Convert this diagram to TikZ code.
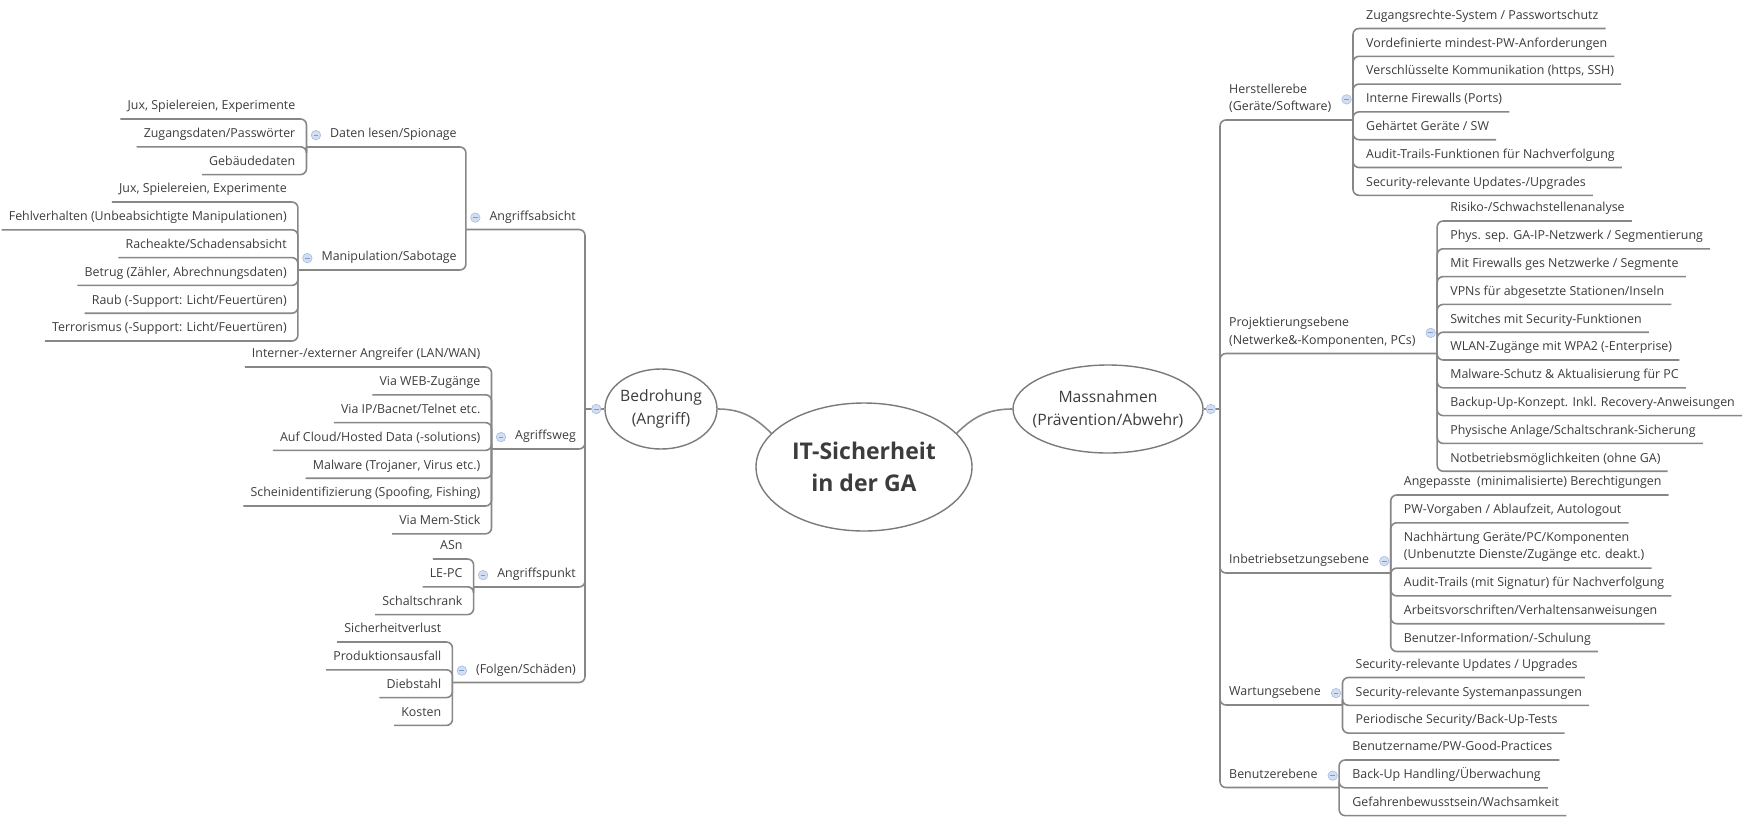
\documentclass[tikz,border=0pt]{standalone}
\usepackage{fontspec}
\setmainfont{Open Sans}
\usetikzlibrary{positioning,shapes.geometric}

\definecolor{txtgray}{HTML}{3C3C3C}
\definecolor{linegray}{HTML}{878787}
\definecolor{ringgray}{HTML}{7A7A7A}
\definecolor{foldfill}{HTML}{D3DEF2}
\definecolor{foldline}{HTML}{A6BCE2}
\definecolor{foldbar}{HTML}{7E9BD0}

\newcommand{\two}[2]{\begin{tabular}[b]{@{}l@{}}#1\\#2\end{tabular}}

\tikzset{
  leaf/.style={font=\fontsize{12.4}{17.5}\selectfont, text=txtgray, inner xsep=7pt, inner ysep=0pt,
    text height=18.4pt, text depth=9pt},
  topic/.style={leaf, inner xsep=9pt},
  twoline/.style={text height=35.9pt},
  bubble/.style={ellipse, draw=ringgray, line width=1.4pt, text=txtgray, inner sep=0pt, align=center},
  branch/.style={draw=linegray, line width=1.6pt, rounded corners=6pt},
  fold/.style={circle, draw=foldline, fill=foldfill, line width=0.6pt, minimum size=9.5pt, inner sep=0pt,
    path picture={\draw[foldbar, line width=0.9pt]
      ([xshift=-2.4pt]path picture bounding box.center) -- ([xshift=2.4pt]path picture bounding box.center);}}
}

\begin{document}
\begin{tikzpicture}[x=1pt, y=-1pt]
\useasboundingbox (0,0) rectangle (1753,819);

\node[bubble, font=\bfseries\fontsize{23}{32}\selectfont, minimum width=216pt, minimum height=128pt]
  (it) at (864,467) {IT-Sicherheit\\in der GA};
\node[bubble, font=\fontsize{15.7}{23}\selectfont, inner xsep=-10pt, minimum width=112pt, minimum height=80pt]
  (bed) at (661,409) {Bedrohung\\(Angriff)};
\node[bubble, font=\fontsize{15.7}{23}\selectfont, inner xsep=-20pt, minimum width=190pt, minimum height=88pt]
  (mas) at (1108,409) {Massnahmen\\(Prävention/Abwehr)};

\coordinate (bed-t) at (585,409);
\coordinate (mas-t) at (1220,409);
\draw[branch] (bed.east) to[out=0, in=135] (it.160);
\draw[branch] (mas.west) to[out=180, in=45] (it.20);
\draw[branch] (bed.west) -- (bed-t);
\draw[branch] (mas.east) -- (mas-t);

% Bedrohung
\node[topic, anchor=south east] (aab) at (585,229.5) {Angriffsabsicht};
\node[topic, anchor=south east] (awg) at (585,449) {Agriffsweg};
\node[topic, anchor=south east] (apu) at (585,587) {Angriffspunkt};
\node[topic, anchor=south east] (fol) at (585,682.5) {(Folgen/Schäden)};
\foreach \n in {aab,awg,apu,fol} \coordinate (\n-b) at ([xshift=-14.5pt]\n.south west);
\foreach \n in {aab,awg,apu,fol} \draw[branch] (bed-t) |- (\n-b);

\node[topic, anchor=south east] (dat) at (aab-b |- 0,147) {Daten lesen/Spionage};
\node[topic, anchor=south east] (man) at (aab-b |- 0,270) {Manipulation/Sabotage};
\foreach \n in {dat,man} \coordinate (\n-b) at ([xshift=-14.5pt]\n.south west);
\foreach \n in {dat,man} \draw[branch] (aab-b) |- (\n-b);

\node[leaf, anchor=south east, xshift=-4pt] (dl-1) at (dat-b |- 0,119) {Jux, Spielereien, Experimente};
\foreach \t [count=\i from 2, remember=\i as \j (initially 1)] in {Zugangsdaten/Passwörter, Gebäudedaten}
  \node[leaf, below=0pt of dl-\j.south east, anchor=north east] (dl-\i) {\t};
\foreach \i in {1,...,3} \draw[branch] (dat-b) |- (dl-\i.south west);

\node[leaf, anchor=south east, xshift=-4pt] (ms-1) at (man-b |- 0,202) {Jux, Spielereien, Experimente};
\foreach \t [count=\i from 2, remember=\i as \j (initially 1)] in {Fehlverhalten (Unbeabsichtigte Manipulationen),
    Racheakte/Schadensabsicht, {Betrug (Zähler, Abrechnungsdaten)}, Raub (-Support: Licht/Feuertüren),
    Terrorismus (-Support: Licht/Feuertüren)}
  \node[leaf, below=0pt of ms-\j.south east, anchor=north east] (ms-\i) {\t};
\foreach \i in {1,...,6} \draw[branch] (man-b) |- (ms-\i.south west);

\node[leaf, anchor=south east, xshift=-4pt] (aw-1) at (awg-b |- 0,367) {Interner-/externer Angreifer (LAN/WAN)};
\foreach \t [count=\i from 2, remember=\i as \j (initially 1)] in {Via WEB-Zugänge, Via IP/Bacnet/Telnet etc.,
    Auf Cloud/Hosted Data (-solutions), {Malware (Trojaner, Virus etc.)},
    {Scheinidentifizierung (Spoofing, Fishing)}, Via Mem-Stick}
  \node[leaf, below=0pt of aw-\j.south east, anchor=north east] (aw-\i) {\t};
\foreach \i in {1,...,7} \draw[branch] (awg-b) |- (aw-\i.south west);

\node[leaf, anchor=south east, xshift=-4pt] (ap-1) at (apu-b |- 0,559) {ASn};
\foreach \t [count=\i from 2, remember=\i as \j (initially 1)] in {LE-PC, Schaltschrank}
  \node[leaf, below=0pt of ap-\j.south east, anchor=north east] (ap-\i) {\t};
\foreach \i in {1,...,3} \draw[branch] (apu-b) |- (ap-\i.south west);

\node[leaf, anchor=south east, xshift=-4pt] (fs-1) at (fol-b |- 0,642) {Sicherheitverlust};
\foreach \t [count=\i from 2, remember=\i as \j (initially 1)] in {Produktionsausfall, Diebstahl, Kosten}
  \node[leaf, below=0pt of fs-\j.south east, anchor=north east] (fs-\i) {\t};
\foreach \i in {1,...,4} \draw[branch] (fol-b) |- (fs-\i.south west);

% Massnahmen
\node[topic, anchor=south west] (hst) at (1220,120) {\two{Herstellerebe}{(Geräte/Software)}};
\node[topic, anchor=south west] (prj) at (1220,353.5) {\two{Projektierungsebene}{(Netwerke\&-Komponenten, PCs)}};
\node[topic, anchor=south west] (inb) at (1220,573) {Inbetriebsetzungsebene};
\node[topic, anchor=south west] (wtg) at (1220,705) {Wartungsebene};
\node[topic, anchor=south west] (ben) at (1220,787.5) {Benutzerebene};
\foreach \n in {hst,prj,inb,wtg,ben} \coordinate (\n-b) at ([xshift=12.5pt]\n.south east);
\foreach \n in {hst,prj,inb,wtg,ben} \draw[branch] (mas-t) |- (\n-b);

\node[leaf, anchor=south west, xshift=6pt] (hs-1) at (hst-b |- 0,28.5) {Zugangsrechte-System / Passwortschutz};
\foreach \t [count=\i from 2, remember=\i as \j (initially 1)] in {Vordefinierte mindest-PW-Anforderungen,
    {Verschlüsselte Kommunikation (https, SSH)}, Interne Firewalls (Ports), Gehärtet Geräte / SW,
    Audit-Trails-Funktionen für Nachverfolgung, Security-relevante Updates-/Upgrades}
  \node[leaf, below=0pt of hs-\j.south west, anchor=north west] (hs-\i) {\t};
\foreach \i in {1,...,7} \draw[branch] (hst-b) |- (hs-\i.south east);

\node[leaf, anchor=south west, xshift=6pt] (pj-1) at (prj-b |- 0,221) {Risiko-/Schwachstellenanalyse};
\foreach \t [count=\i from 2, remember=\i as \j (initially 1)] in {Phys. sep. GA-IP-Netzwerk / Segmentierung,
    Mit Firewalls ges Netzwerke / Segmente, VPNs für abgesetzte Stationen/Inseln,
    Switches mit Security-Funktionen, WLAN-Zugänge mit WPA2 (-Enterprise),
    Malware-Schutz \& Aktualisierung für PC, Backup-Up-Konzept. Inkl. Recovery-Anweisungen,
    Physische Anlage/Schaltschrank-Sicherung, Notbetriebsmöglichkeiten (ohne GA)}
  \node[leaf, below=0pt of pj-\j.south west, anchor=north west] (pj-\i) {\t};
\foreach \i in {1,...,10} \draw[branch] (prj-b) |- (pj-\i.south east);

\node[leaf, anchor=south west, xshift=6pt] (ib-1) at (inb-b |- 0,495) {Angepasste~ (minimalisierte) Berechtigungen};
\node[leaf, below=0pt of ib-1.south west, anchor=north west] (ib-2) {PW-Vorgaben / Ablaufzeit, Autologout};
\node[leaf, twoline, below=0pt of ib-2.south west, anchor=north west] (ib-3)
  {\two{Nachhärtung Geräte/PC/Komponenten}{(Unbenutzte Dienste/Zugänge etc. deakt.)}};
\node[leaf, below=0pt of ib-3.south west, anchor=north west] (ib-4) {Audit-Trails (mit Signatur) für Nachverfolgung};
\node[leaf, below=0pt of ib-4.south west, anchor=north west] (ib-5) {Arbeitsvorschriften/Verhaltensanweisungen};
\node[leaf, below=0pt of ib-5.south west, anchor=north west] (ib-6) {Benutzer-Information/-Schulung};
\foreach \i in {1,...,6} \draw[branch] (inb-b) |- (ib-\i.south east);

\node[leaf, anchor=south west, xshift=6pt] (wt-1) at (wtg-b |- 0,677.5) {Security-relevante Updates / Upgrades};
\foreach \t [count=\i from 2, remember=\i as \j (initially 1)] in {Security-relevante Systemanpassungen,
    Periodische Security/Back-Up-Tests}
  \node[leaf, below=0pt of wt-\j.south west, anchor=north west] (wt-\i) {\t};
\foreach \i in {1,...,3} \draw[branch] (wtg-b) |- (wt-\i.south east);

\node[leaf, anchor=south west, xshift=6pt] (bn-1) at (ben-b |- 0,760) {Benutzername/PW-Good-Practices};
\foreach \t [count=\i from 2, remember=\i as \j (initially 1)] in {Back-Up Handling/Überwachung,
    Gefahrenbewusstsein/Wachsamkeit}
  \node[leaf, below=0pt of bn-\j.south west, anchor=north west] (bn-\i) {\t};
\foreach \i in {1,...,3} \draw[branch] (ben-b) |- (bn-\i.south east);

% fold markers
\node[fold, left=3pt of bed.west] (bed-m) {};
\node[fold, right=2pt of mas.east] (mas-m) {};
\foreach \n in {aab,awg,apu,fol,dat,man} \node[fold, left=0pt of \n.mid west] (\n-m) {};
\foreach \n in {inb,wtg,ben} \node[fold, right=1pt of \n.mid east] (\n-m) {};
\foreach \n in {hst,prj} \node[fold, right=1pt of \n.mid east, yshift=8.75pt] (\n-m) {};
\end{tikzpicture}
\end{document}
